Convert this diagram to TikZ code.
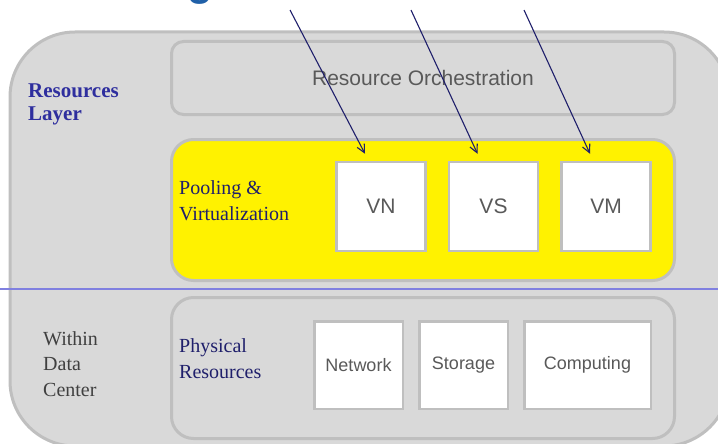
\documentclass[tikz,border=0pt]{standalone}
\usepackage{fontspec}
\setmainfont{Liberation Serif}
\setsansfont{Liberation Sans}
\usetikzlibrary{positioning,arrows.meta}
\definecolor{panelgray}{HTML}{D9D9D9}
\definecolor{edgegray}{HTML}{BFBFBF}
\definecolor{textgray}{HTML}{595959}
\definecolor{navy}{HTML}{1F1F6B}
\definecolor{layerblue}{HTML}{2E2E9E}
\definecolor{splitblue}{HTML}{8080E0}
\definecolor{titleblue}{HTML}{2060A8}
\begin{document}
\begin{tikzpicture}[x=1pt, y=-1pt, node distance=21pt,
    panel/.style={draw=edgegray, line width=3pt, fill=panelgray, rounded corners=#1, minimum width=503pt},
    panel/.default=22pt,
    unit/.style={draw=edgegray, line width=2.5pt, fill=white, minimum width=89pt, minimum height=89pt, font=\sffamily\fontsize{21}{21}\selectfont, text=textgray},
    part/.style={draw=edgegray, line width=2.5pt, fill=white, minimum width=88.5pt, minimum height=87.5pt, font=\sffamily\fontsize{18}{18}\selectfont, text=textgray},
    lefttext/.style={anchor=base west, inner sep=0pt, align=left, font=\fontsize{20}{25.5}\selectfont},
    feed/.style={draw=navy, line width=1.1pt, -{Straight Barb[length=8pt,width=8pt]}}]
    \useasboundingbox (0,0) rectangle (718,444);
    \clip (0,0) rectangle (718,444);
    \draw [draw=edgegray, fill=panelgray, line width=3pt, rounded corners=65pt] (10,32) rectangle (729,446);
    \node [text=titleblue, font=\sffamily\bfseries\fontsize{42}{42}\selectfont, anchor=base, inner sep=0pt] (title) at (200,-4) {g};
    
    \node [panel=12pt, minimum height=73pt, font=\sffamily\fontsize{21}{21}\selectfont, text=textgray] (orch) at (423,78) {Resource Orchestration};
    \node [panel, fill=yellow, minimum height=141pt] (pool) at (423,210) {};
    \node [panel, minimum height=141pt] (phys) at (423,368) {};
    \draw [splitblue, line width=1.5pt] (0,289) -- (718,289);
    
    \node [unit] (VN) at (381,206.5) {VN};
    \node [unit, right=of VN] (VS) {VS};
    \node [unit, right=of VS] (VM) {VM};
    
    \node [part] (network) at (358.5,365) {Network};
    \node [part, right=14pt of network] (storage) {Storage};
    \node [part, right=14pt of storage, minimum width=126.5pt] (computing) {Computing};
    
    \node [lefttext, font=\bfseries\fontsize{21}{24}\selectfont, text=layerblue] (layer) at (28,121) {Resources\\Layer};
    \node [lefttext, text=navy] (pooltext) at (179,220) {Pooling \&\\Virtualization};
    \node [lefttext, text=navy] (phystext) at (179,378) {Physical\\Resources};
    \node [lefttext, text=black!75] (dctext) at (43,396) {Within\\Data\\Center};
    
    \coordinate (in1) at (290,10);
    \coordinate (in2) at (411,10);
    \coordinate (in3) at (524,10);
    \draw [feed] (in1) -- ([xshift=-16pt,yshift=7pt]VN.north);
    \draw [feed] (in2) -- ([xshift=-16pt,yshift=7pt]VS.north);
    \draw [feed] (in3) -- ([xshift=-16pt,yshift=7pt]VM.north);
\end{tikzpicture}
\end{document}
